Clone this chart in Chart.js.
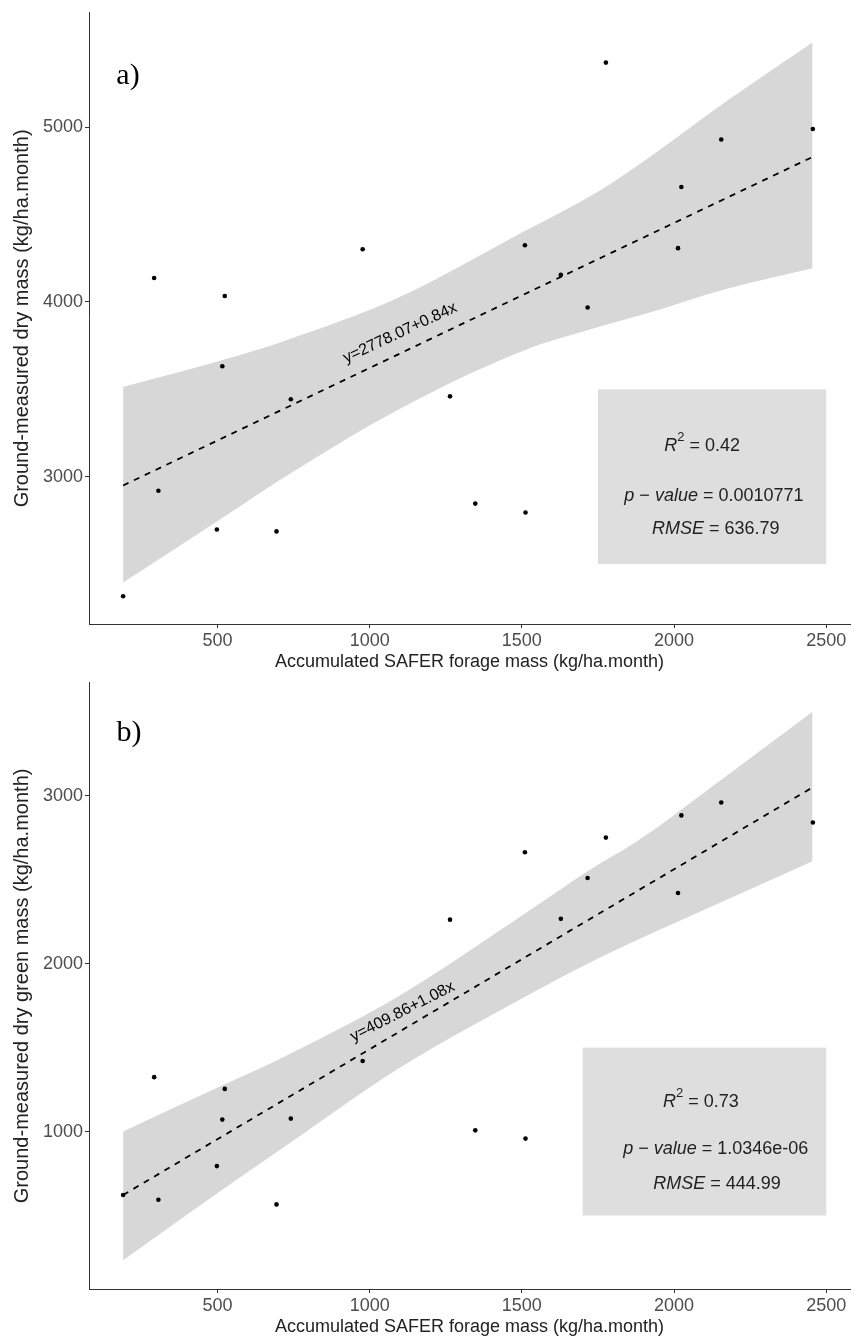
<!DOCTYPE html>
<html>
<head>
<meta charset="utf-8">
<script src="https://cdn.jsdelivr.net/npm/chart.js@4.4.1/dist/chart.umd.min.js"></script>
<style>
  body { margin: 0; background: #fff; }
  #wrap { position: relative; width: 854px; height: 1338px; }
  canvas { position: absolute; left: 0; }
  #chartA { top: 0; }
  #chartB { top: 670px; }
</style>
</head>
<body>
<div id="wrap">
  <canvas id="chartA" width="854" height="680"></canvas>
  <canvas id="chartB" width="854" height="668"></canvas>
</div>
<script>
'use strict';

// accumulated SAFER forage mass (same x for both panels)
const saferX = [190, 292, 306, 498, 516, 524, 694, 741, 977, 1264, 1347, 1510, 1512, 1628, 1716, 1776, 2013, 2024, 2155, 2456];
// panel a: ground-measured dry mass
const dryMass = [2316, 4137, 2920, 2698, 3632, 4034, 2687, 3443, 4302, 3460, 2846, 4325, 2795, 4155, 3968, 5370, 4308, 4658, 4930, 4990];
// panel b: ground-measured dry green mass
const greenMass = [622, 1324, 594, 794, 1071, 1254, 566, 1077, 1420, 2262, 1007, 2664, 958, 2267, 2510, 2751, 2421, 2883, 2960, 2841];

// fitted lines (ends) and confidence bands
const fitXA = [190, 2455];
const fitYA = [2950, 4830];
const fitXB = [190, 2455];
const fitYB = [622, 3050];

const bandXA = [190, 517, 713, 1095, 1503, 1748, 1912, 2173, 2455];
const bandUpA = [3514, 3668, 3773, 4025, 4400, 4630, 4820, 5150, 5485];
const bandLoA = [2395, 2765, 2990, 3385, 3720, 3855, 3935, 4075, 4193];

const bandXB = [190, 517, 713, 1095, 1503, 1716, 1879, 2173, 2455];
const bandUpB = [1000, 1275, 1440, 1806, 2290, 2550, 2730, 3120, 3500];
const bandLoB = [233, 655, 900, 1375, 1795, 2000, 2141, 2380, 2610];

const xTicks = [500, 1000, 1500, 2000, 2500];
const xTickLabels = ['500', '1000', '1500', '2000', '2500'];
const yTicksA = [3000, 4000, 5000];
const yTickLabelsA = ['3000', '4000', '5000'];
const yTicksB = [1000, 2000, 3000];
const yTickLabelsB = ['1000', '2000', '3000'];

const statsA = ['0.42', '0.0010771', '636.79'];
const statsB = ['0.73', '1.0346e-06', '444.99'];

const FONT = '"Liberation Sans", Arial, sans-serif';

const pts = (xs, ys) => xs.map((x, i) => ({x: x, y: ys[i]}));

// boxes, labels and equation text
const annotPlugin = {
  id: 'annot',
  beforeDatasetsDraw(chart) {
    const a = chart.options.plugins.annot;
    const xs = chart.scales.x, ys = chart.scales.y;
    const ctx = chart.ctx;
    const x0 = xs.getPixelForValue(a.box[0]), x1 = xs.getPixelForValue(a.box[1]);
    const y0 = ys.getPixelForValue(a.box[2]), y1 = ys.getPixelForValue(a.box[3]);
    ctx.save();
    ctx.fillStyle = '#dedede';
    ctx.fillRect(x0, y1, x1 - x0, y0 - y1);
    ctx.restore();
  },
  afterDatasetsDraw(chart) {
    const a = chart.options.plugins.annot;
    const xs = chart.scales.x, ys = chart.scales.y;
    const ctx = chart.ctx;
    ctx.save();

    // panel letter
    ctx.fillStyle = '#000';
    ctx.font = '30px "Liberation Serif", "Times New Roman", serif';
    ctx.textAlign = 'center';
    ctx.textBaseline = 'middle';
    ctx.fillText(a.letter[0], xs.getPixelForValue(a.letter[1]), ys.getPixelForValue(a.letter[2]));

    // regression equation along the line
    ctx.save();
    ctx.translate(xs.getPixelForValue(a.eq[1]), ys.getPixelForValue(a.eq[2]));
    ctx.rotate(-a.eq[3] * Math.PI / 180);
    ctx.font = '16px ' + FONT;
    ctx.fillText(a.eq[0], 0, 0);
    ctx.restore();

    // stats lines
    ctx.fillStyle = '#222';
    a.stats.forEach(s => drawRuns(ctx, s.runs, xs.getPixelForValue(s.x), ys.getPixelForValue(s.y), 18));
    ctx.restore();
  }
};

function drawRuns(ctx, runs, cx, cy, size) {
  const fontFor = st => (st === 'i' ? 'italic ' : '') + (st === 's' ? Math.round(size * 0.7) : size) + 'px ' + FONT;
  let w = 0;
  runs.forEach(r => { ctx.font = fontFor(r[1]); w += ctx.measureText(r[0]).width; });
  let x = cx - w / 2;
  ctx.textAlign = 'left';
  ctx.textBaseline = 'middle';
  runs.forEach(r => {
    ctx.font = fontFor(r[1]);
    ctx.fillText(r[0], x, r[1] === 's' ? cy - size * 0.45 : cy);
    x += ctx.measureText(r[0]).width;
  });
}

const makeChart = function(id, cfg) {
  const canvas = document.getElementById(id);
  return new Chart(canvas.getContext('2d'), {
    type: 'scatter',
    data: {
      datasets: [{
        data: pts(saferX, cfg.y),
        backgroundColor: '#000',
        borderColor: '#000',
        pointRadius: 2.3,
        pointBorderWidth: 0
      }, {
        data: pts(cfg.fitX, cfg.fitY),
        showLine: true,
        borderColor: '#000',
        borderWidth: 1.8,
        borderDash: [6, 6],
        pointRadius: 0
      }, {
        data: pts(cfg.bandX, cfg.bandUp),
        showLine: true,
        fill: '+1',
        backgroundColor: '#d7d7d7',
        borderColor: 'rgba(0,0,0,0)',
        borderWidth: 0,
        pointRadius: 0,
        cubicInterpolationMode: 'monotone'
      }, {
        data: pts(cfg.bandX, cfg.bandLo),
        showLine: true,
        fill: false,
        borderColor: 'rgba(0,0,0,0)',
        borderWidth: 0,
        pointRadius: 0,
        cubicInterpolationMode: 'monotone'
      }]
    },
    options: {
      responsive: false,
      animation: false,
      events: [],
      layout: { padding: { top: cfg.padTop, left: 0, right: 0, bottom: 0 } },
      plugins: {
        legend: { display: false },
        tooltip: { enabled: false },
        annot: cfg.annot
      },
      scales: {
        x: {
          type: 'linear',
          min: 78,
          max: 2578,
          afterBuildTicks: axis => { axis.ticks = xTicks.map(v => ({value: v})); },
          afterFit: scale => { scale.height = cfg.xHeight; },
          grid: { drawOnChartArea: false, drawTicks: true, tickLength: 4, color: '#333' },
          border: { color: '#333', width: 1 },
          ticks: {
            color: '#4d4d4d',
            font: { family: FONT, size: 18 },
            padding: 2,
            maxRotation: 0,
            callback: (v, i) => xTickLabels[i]
          },
          title: {
            display: true,
            text: 'Accumulated SAFER forage mass (kg/ha.month)',
            color: '#222',
            font: { family: FONT, size: 18 },
            padding: { top: 0, bottom: cfg.xTitlePad }
          }
        },
        y: {
          type: 'linear',
          min: cfg.yMin,
          max: cfg.yMax,
          afterBuildTicks: axis => { axis.ticks = cfg.yTicks.map(v => ({value: v})); },
          afterFit: scale => { scale.width = 89; },
          grid: { drawOnChartArea: false, drawTicks: true, tickLength: 4, color: '#333' },
          border: { color: '#333', width: 1 },
          ticks: {
            color: '#4d4d4d',
            font: { family: FONT, size: 18 },
            padding: 2,
            callback: (v, i) => cfg.yTickLabels[i]
          },
          title: {
            display: true,
            text: cfg.yTitle,
            color: '#222',
            font: { family: FONT, size: 20 },
            padding: { top: 10, bottom: 0 }
          }
        }
      }
    },
    plugins: [annotPlugin]
  });
};

makeChart('chartA', {
  y: dryMass,
  fitX: fitXA, fitY: fitYA,
  bandX: bandXA, bandUp: bandUpA, bandLo: bandLoA,
  yMin: 2157, yMax: 5655, yTicks: yTicksA, yTickLabels: yTickLabelsA,
  padTop: 10, xHeight: 56, xTitlePad: 7,
  yTitle: 'Ground-measured dry mass (kg/ha.month)',
  annot: {
    box: [1750, 2500, 2500, 3500],
    letter: ['a)', 206, 5290],
    eq: ['y=2778.07+0.84x', 1100, 3823, 25],
    stats: [
      { runs: [['R', 'i'], ['2', 's'], [' = ' + statsA[0], 'n']], x: 2092, y: 3177 },
      { runs: [['p', 'i'], [' \u2212 ', 'n'], ['value', 'i'], [' = ' + statsA[1], 'n']], x: 2131, y: 2892 },
      { runs: [['RMSE', 'i'], [' = ' + statsA[2], 'n']], x: 2137, y: 2698 }
    ]
  }
});

makeChart('chartB', {
  y: greenMass,
  fitX: fitXB, fitY: fitYB,
  bandX: bandXB, bandUp: bandUpB, bandLo: bandLoB,
  yMin: 62, yMax: 3673, yTicks: yTicksB, yTickLabels: yTickLabelsB,
  padTop: 7, xHeight: 49, xTitlePad: 0,
  yTitle: 'Ground-measured dry green mass (kg/ha.month)',
  annot: {
    box: [1700, 2500, 500, 1500],
    letter: ['b)', 209, 3372],
    eq: ['y=409.86+1.08x', 1108, 1714, 27],
    stats: [
      { runs: [['R', 'i'], ['2', 's'], [' = ' + statsB[0], 'n']], x: 2088, y: 1177 },
      { runs: [['p', 'i'], [' \u2212 ', 'n'], ['value', 'i'], [' = ' + statsB[1], 'n']], x: 2137, y: 894 },
      { runs: [['RMSE', 'i'], [' = ' + statsB[2], 'n']], x: 2141, y: 687 }
    ]
  }
});
</script>
</body>
</html>
